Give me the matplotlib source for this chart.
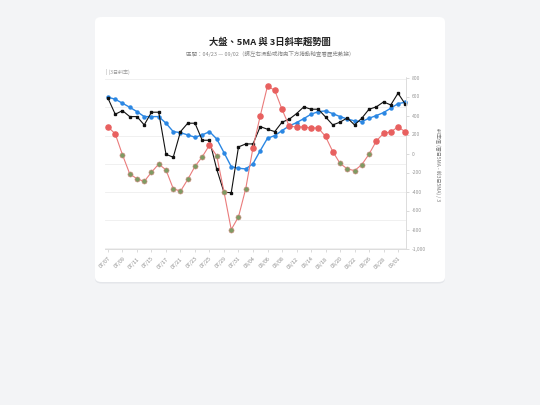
import numpy as np
from matplotlib import pyplot as plt
from matplotlib.patches import FancyBboxPatch

plt.rcParams['font.family'] = ['Noto Sans CJK TC', 'DejaVu Sans']

# trading days shown in the visible window
dates = ["07/07", "07/08", "07/09", "07/10", "07/11", "07/14", "07/15", "07/16", "07/17", "07/18",
         "07/21", "07/22", "07/23", "07/24", "07/25", "07/28", "07/29", "07/30", "07/31", "08/01",
         "08/04", "08/05", "08/06", "08/07", "08/08", "08/11", "08/12", "08/13", "08/14", "08/15",
         "08/18", "08/19", "08/20", "08/21", "08/22", "08/25", "08/26", "08/27", "08/28", "08/29",
         "09/01", "09/02"]

# index close (left axis, labels hidden)
index_close = [23663, 23379, 23443, 23337, 23337, 23190, 23415, 23415, 22670, 22617,
               23071, 23220, 23220, 22918, 22918, 22404, 21996, 21989, 22800, 22853,
               22853, 23160, 23113, 23071, 23238, 23291, 23390, 23509, 23468, 23468,
               23331, 23190, 23238, 23314, 23190, 23308, 23468, 23509, 23597, 23544,
               23752, 23557]

# 5MA (left axis)
ma5 = [23681, 23645, 23574, 23503, 23425, 23337, 23337, 23337, 23220, 23071,
       23053, 23012, 22972, 23012, 23071, 22941, 22699, 22450, 22422, 22410,
       22503, 22734, 22954, 23000, 23089, 23172, 23230, 23301, 23379, 23425,
       23438, 23390, 23337, 23296, 23261, 23248, 23308, 23355, 23408, 23486,
       23567, 23592]

# 3-day slope of 5MA (right axis)
slope = [280, 207, -14, -214, -266, -294, -197, -111, -173, -370,
         -397, -273, -135, -35, 89, -25, -404, -801, -666, -370,
         62, 396, 710, 665, 466, 286, 280, 280, 269, 269,
         179, 21, -104, -162, -180, -118, -7, 130, 213, 228,
         280, 228]

x = np.arange(len(dates))
slope = np.array(slope)

fig = plt.figure(figsize=(5.4, 4.05), dpi=100)
fig.patch.set_facecolor('#f3f4f6')

# card with a soft shadow
shadow = FancyBboxPatch((95 / 540, 1 - 283.5 / 405), 350 / 540, 265 / 405,
                        boxstyle='round,pad=0,rounding_size=0.012', transform=fig.transFigure,
                        fc='#e4e6ea', ec='none', zorder=-2)
card = FancyBboxPatch((95 / 540, 1 - 282 / 405), 350 / 540, 265 / 405,
                      boxstyle='round,pad=0,rounding_size=0.012', transform=fig.transFigure,
                      fc='white', ec='none', zorder=-1)
fig.patches.extend([shadow, card])

fig.text(0.5, 1 - 42 / 405, '大盤、5MA 與 3日斜率趨勢圖', ha='center', va='center',
         fontsize=6.7, fontweight='bold', color='#222222')
fig.text(0.5, 1 - 53.5 / 405, '區間：04/23 — 09/02（請左右滑動或拖曳下方捲動軸查看歷史數據）',
         ha='center', va='center', fontsize=4.0, color='#888888')

ax = fig.add_axes([105 / 540, 1 - 248.5 / 405, (406 - 105) / 540, (248.5 - 77.5) / 405])
ax.set_facecolor('none')
ax2 = ax.twinx()

# left axis: index and 5MA
ax.set_ylim(21000, 24030)
ax.set_yticks(np.arange(21000, 24001, 500))
ax.tick_params(axis='y', left=False, labelleft=False)
ax.grid(axis='y', color='#eeeeee', linewidth=0.6)
ax.set_axisbelow(True)

ax.plot(x, ma5, color='#2b87e3', linewidth=1.0, marker='o', markersize=2.2, clip_on=False, zorder=3)
ax.plot(x, index_close, color='#111111', linewidth=0.8, marker='s', markersize=1.6, clip_on=False, zorder=4)

# right axis: slope
ax2.set_ylim(-1000, 800)
ax2.set_yticks(np.arange(-1000, 801, 200))
ax2.set_yticklabels(['{:,}'.format(v) for v in range(-1000, 801, 200)])
ax2.plot(x, slope, color='#ea7b7b', linewidth=0.8, zorder=2)
pos = slope >= 0
ax2.plot(x[pos], slope[pos], linestyle='none', marker='o', markersize=3.7,
         color='#e8605f', markeredgecolor='#e8605f', clip_on=False, zorder=3)
ax2.plot(x[~pos], slope[~pos], linestyle='none', marker='o', markersize=3.7,
         color='#7f9a63', markeredgecolor='#d98c86', markeredgewidth=0.4, clip_on=False, zorder=3)
ax2.tick_params(axis='y', labelsize=3.6, labelcolor='#999999', color='#cccccc', length=2, width=0.5, pad=2)

ax.set_xlim(-0.41, 41.1)
ax.set_xticks(x[::2])
ax.set_xticklabels(dates[::2], rotation=45, ha='right', rotation_mode='anchor')
ax.tick_params(axis='x', labelsize=3.8, labelcolor='#888888', color='#cccccc', length=2.5, width=0.5, pad=3)

for a in (ax, ax2):
    for s in ('top', 'left'):
        a.spines[s].set_visible(False)
    a.spines['bottom'].set_color('#dddddd')
    a.spines['bottom'].set_linewidth(0.6)
    a.spines['right'].set_color('#dddddd')
    a.spines['right'].set_linewidth(0.6)

fig.text(106 / 540, 1 - 72 / 405, '| (3日斜率)', ha='left', va='center', fontsize=3.6, color='#999999')
fig.text(438 / 540, 1 - 165 / 405, '斜率值 (當日5MA - 前3日5MA) / 3', ha='center', va='center',
         rotation=270, fontsize=3.6, color='#777777')

fig.savefig('out.png', dpi=100, facecolor=fig.get_facecolor())
